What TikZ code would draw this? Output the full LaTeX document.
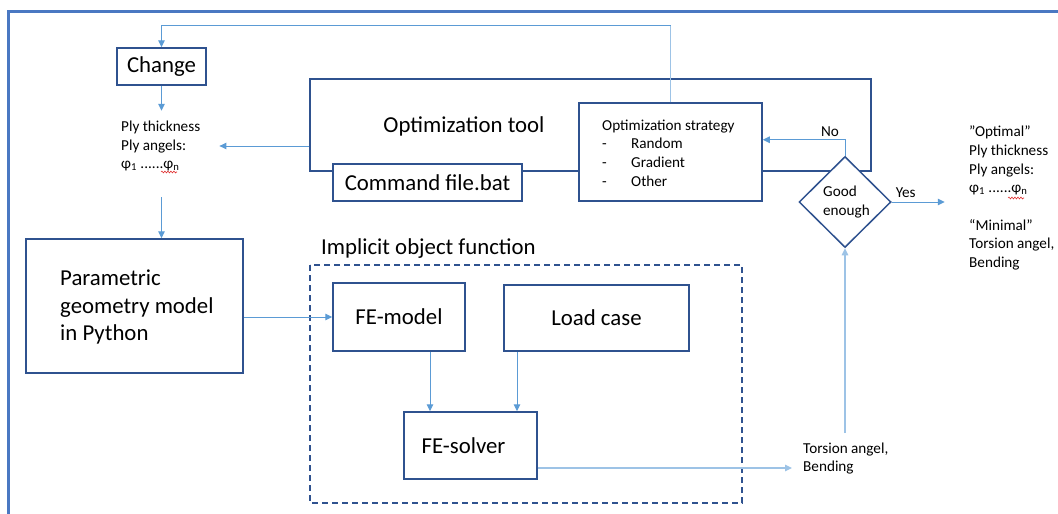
\documentclass[tikz,border=0pt]{standalone}
\usepackage{fontspec}
\setmainfont{Carlito}
\usetikzlibrary{shapes.geometric,arrows.meta,decorations.pathmorphing,calc}

\definecolor{boxline}{HTML}{2F528F}
\definecolor{link}{HTML}{5B9BD5}
\definecolor{linklight}{HTML}{9DC3E6}
\definecolor{frameblue}{HTML}{4A78C2}
\definecolor{spellred}{HTML}{E03030}

\newcommand\bigtext{\fontsize{22.8}{27.5}\selectfont}
\newcommand\smalltext{\fontsize{15.2}{18.7}\selectfont}

\begin{document}
\begin{tikzpicture}[x=1pt,y=-1pt,
  box/.style={draw=boxline,line width=1.5pt,fill=white,rectangle,inner sep=0pt,font=\bigtext},
  decision/.style={draw=boxline,line width=1.5pt,fill=white,diamond,inner sep=0pt,
    font=\smalltext,align=left},
  groupbox/.style={draw=boxline,line width=1.3pt,dash pattern=on 6pt off 4pt},
  txt/.style={inner sep=0pt,align=left},
  arr/.style={draw=link,line width=1pt,-{Triangle[length=7pt,width=6.5pt]}},
  arrlight/.style={draw=linklight,line width=1.2pt,-{Triangle[length=7pt,width=6.5pt]}},
  plain/.style={draw=linklight,line width=1.2pt},
  spell/.style={draw=spellred,line width=0.6pt,decorate,
    decoration={snake,amplitude=0.9pt,segment length=3pt}}
]
\useasboundingbox (0,0) rectangle (1058,514);
\clip (0,0) rectangle (1058,514);

% outer frame
\draw[frameblue,line width=2.5pt] (8.3,530) -- (8.3,11.3) -- (1070,11.3);

% optimization tool with its command file and strategy
\node[box,minimum width=561pt,minimum height=92pt] (opt) at (590.5,125) {};
\node[txt,font=\bigtext] (optlabel) at (464,126) {Optimization tool};
\node[box,minimum width=189pt,minimum height=37pt] (cmd) at (427.5,182.5) {Command file.bat};
\node[box,minimum width=183pt,minimum height=98pt] (strat) at (670.5,152) {};
\node[txt,font=\smalltext,anchor=west] (strattext) at (602,153)
  {Optimization strategy\\
   \makebox[29pt][l]{-}Random\\
   \makebox[29pt][l]{-}Gradient\\
   \makebox[29pt][l]{-}Other};

% decision
\node[decision,minimum width=92pt,minimum height=91pt] (good) at (845,202) {\hspace*{3pt}Good\\\hspace*{3pt}enough};

% change and parameters
\node[box,minimum width=89pt,minimum height=37pt] (change) at (161.5,66.5) {Change};
\node[txt,font=\smalltext,anchor=west] (ply) at (121,146)
  {Ply thickness\\Ply angels:\\φ\textsubscript{1} ......φ\textsubscript{n}};
\draw[spell] (161,172) -- (177,172);

% geometry model
\node[box,minimum width=217pt,minimum height=134pt] (param) at (134.5,306) {};
\node[txt,font=\bigtext,anchor=west] (paramtext) at (60,307)
  {Parametric\\geometry model\\in Python};

% implicit object function
\draw[groupbox] (310,265) rectangle (742,503);
\node[txt,font=\bigtext,anchor=west] (implicit) at (321,249) {Implicit object function};
\node[box,minimum width=132pt,minimum height=68pt] (femodel) at (399,317) {FE-model};
\node[box,minimum width=185pt,minimum height=66pt] (load) at (596.5,318) {Load case};
\node[box,minimum width=133pt,minimum height=67pt] (solver) at (470.5,445.5) {\hspace*{-14pt}FE-solver};

% results
\node[txt,font=\smalltext,anchor=west] (torsion) at (803,458.5) {Torsion angel,\\Bending};
\node[txt,font=\smalltext,anchor=west] (result) at (969,198)
  {”Optimal”\\Ply thickness\\Ply angels:\\φ\textsubscript{1} ......φ\textsubscript{n}\\[18.7pt]
   “Minimal”\\Torsion angel,\\Bending};
\draw[spell] (1008,198) -- (1024,198);

% connectors
\coordinate (fbtop) at (670.5,25);
\draw[plain] (strat.north) -- (fbtop);
\draw[arr] (fbtop) -| (change.north);
\draw[arr] (change.south) -- ++(0,25);
\draw[arr] (opt.west |- ply) -- ([xshift=19pt]ply.east);
\coordinate (plyout) at (161.5,197);
\draw[arr] (plyout) -- (plyout |- param.north);
\draw[arr] (param.east |- femodel.west) -- (femodel.west);
\draw[arr] ([xshift=31pt]femodel.south) -- ([xshift=31pt]femodel.south |- solver.north);
\draw[arr] ([xshift=-79.5pt]load.south) -- ([xshift=-79.5pt]load.south |- solver.north);
\coordinate (solverout) at ([yshift=-22.5pt]solver.east);
\coordinate (torsionin) at ([xshift=-11pt]solverout -| torsion.west);
\draw[arrlight] (solverout) -- (torsionin);
\coordinate (tsup) at (845,433);
\draw[arrlight] (tsup) -- (good.south);
\coordinate (nocorner) at ([yshift=16pt]good.north);
\draw[arr] (good.north) -- (nocorner) -- (nocorner -| strat.east);
\node[font=\smalltext,inner sep=0pt] (no) at ([xshift=-15pt,yshift=8pt]nocorner) {No};
\coordinate (yesend) at ([xshift=53pt]good.east);
\draw[arr] (good.east) -- (yesend);
\node[font=\smalltext,inner sep=0pt] (yes) at ([xshift=14pt,yshift=9pt]good.east) {Yes};
\end{tikzpicture}
\end{document}
